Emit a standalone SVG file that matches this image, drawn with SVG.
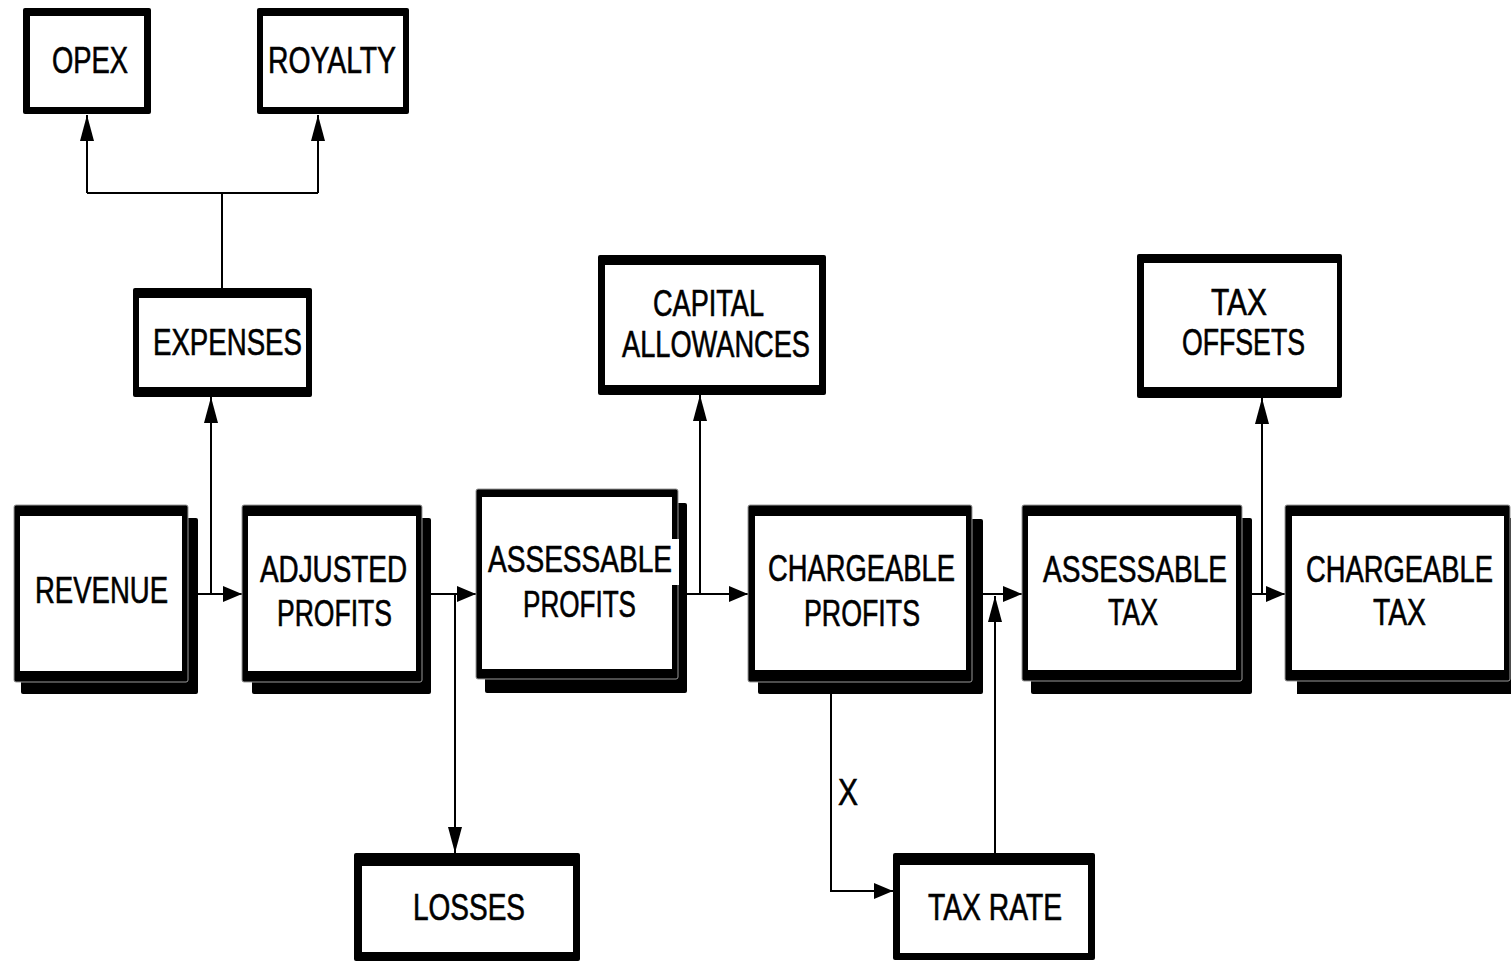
<svg xmlns="http://www.w3.org/2000/svg" width="1511" height="962" viewBox="0 0 1511 962">
<style>
.bk{fill:#000}
.fo{fill:#000;stroke:#9a9a9a;stroke-width:1}
.so{fill:#000}
.in{fill:#fff}
.t{font-family:"Liberation Sans",Arial,sans-serif;font-size:36px;fill:#000;stroke:#000;stroke-width:0.6;text-anchor:middle}
.c{fill:none;stroke:#000;stroke-width:2}
</style>
<defs>
<marker id="mh" markerUnits="userSpaceOnUse" markerWidth="20" markerHeight="18" refX="19" refY="8" orient="auto" overflow="visible">
<path d="M0,0 L19,8 L0,16 z" fill="#000"/>
</marker>
<marker id="mv" markerUnits="userSpaceOnUse" markerWidth="27" markerHeight="14" refX="26" refY="7" orient="auto" overflow="visible">
<path d="M0,0 L26,7 L0,14 z" fill="#000"/>
</marker>
</defs>
<rect width="1511" height="962" fill="#fff"/>

<g id="connectors">
<path class="c" d="M222,288 V193 M87,193 H318"/>
<path class="c" d="M87,193 V115" marker-end="url(#mv)"/>
<path class="c" d="M318,193 V115" marker-end="url(#mv)"/>
<path class="c" d="M198,594 H242" marker-end="url(#mh)"/>
<path class="c" d="M211,594 V397" marker-end="url(#mv)"/>
<path class="c" d="M431,594 H476" marker-end="url(#mh)"/>
<path class="c" d="M455,594 V853" marker-end="url(#mv)"/>
<path class="c" d="M687,594 H748" marker-end="url(#mh)"/>
<path class="c" d="M700,594 V395" marker-end="url(#mv)"/>
<path class="c" d="M983,594 H1022" marker-end="url(#mh)"/>
<path class="c" d="M995,853 V596" marker-end="url(#mv)"/>
<path class="c" d="M831,682 V891 H893" marker-end="url(#mh)"/>
<path class="c" d="M1252,594 H1285" marker-end="url(#mh)"/>
<path class="c" d="M1262,594 V398" marker-end="url(#mv)"/>
<text class="t" x="848" y="805" textLength="20" lengthAdjust="spacingAndGlyphs">X</text>
</g>

<g id="opex">
<rect class="so" x="23" y="8" width="128" height="106" rx="2"/>
<rect class="in" x="30" y="16" width="114" height="91"/>
<text class="t" x="90" y="73" textLength="76" lengthAdjust="spacingAndGlyphs">OPEX</text>
</g>
<g id="royalty">
<rect class="so" x="257" y="8" width="152" height="106" rx="2"/>
<rect class="in" x="263" y="16" width="140" height="91"/>
<text class="t" x="332" y="73" textLength="128" lengthAdjust="spacingAndGlyphs">ROYALTY</text>
</g>
<g id="expenses">
<rect class="so" x="133" y="288" width="179" height="109" rx="2"/>
<rect class="in" x="139" y="298" width="167" height="89"/>
<text class="t" x="227.5" y="355" textLength="149" lengthAdjust="spacingAndGlyphs">EXPENSES</text>
</g>
<g id="capital-allowances">
<rect class="so" x="598" y="255" width="228" height="140" rx="2"/>
<rect class="in" x="605" y="265" width="214" height="120"/>
<text class="t" x="708.5" y="316" textLength="111" lengthAdjust="spacingAndGlyphs">CAPITAL</text>
<text class="t" x="716" y="357" textLength="188" lengthAdjust="spacingAndGlyphs">ALLOWANCES</text>
</g>
<g id="tax-offsets">
<rect class="so" x="1137" y="254" width="205" height="144" rx="2"/>
<rect class="in" x="1144" y="263" width="193" height="124"/>
<text class="t" x="1239" y="315" textLength="56" lengthAdjust="spacingAndGlyphs">TAX</text>
<text class="t" x="1243.5" y="355" textLength="123" lengthAdjust="spacingAndGlyphs">OFFSETS</text>
</g>

<g id="revenue">
<rect class="bk" x="21" y="518" width="177" height="176" rx="2"/>
<rect class="fo" x="14" y="505" width="174" height="177" rx="2"/>
<rect class="in" x="20" y="516" width="162" height="155"/>
<text class="t" x="101.5" y="603" textLength="133" lengthAdjust="spacingAndGlyphs">REVENUE</text>
</g>
<g id="adjusted-profits">
<rect class="bk" x="252" y="518" width="179" height="176" rx="2"/>
<rect class="fo" x="242" y="505" width="180" height="177" rx="2"/>
<rect class="in" x="248" y="516" width="168" height="155"/>
<text class="t" x="333.5" y="582" textLength="147" lengthAdjust="spacingAndGlyphs">ADJUSTED</text>
<text class="t" x="334.5" y="626" textLength="115" lengthAdjust="spacingAndGlyphs">PROFITS</text>
</g>
<g id="assessable-profits">
<rect class="bk" x="485" y="503" width="202" height="190" rx="2"/>
<rect class="fo" x="476" y="489" width="202" height="190" rx="2"/>
<rect class="in" x="482" y="497" width="190" height="172"/>
<rect class="in" x="484" y="539" width="195" height="46"/>
<text class="t" x="580" y="572" textLength="184" lengthAdjust="spacingAndGlyphs">ASSESSABLE</text>
<text class="t" x="579.5" y="617" textLength="113" lengthAdjust="spacingAndGlyphs">PROFITS</text>
</g>
<g id="chargeable-profits">
<rect class="bk" x="758" y="519" width="225" height="175" rx="2"/>
<rect class="fo" x="748" y="505" width="224" height="177" rx="2"/>
<rect class="in" x="755" y="516" width="211" height="154"/>
<text class="t" x="861.5" y="581" textLength="187" lengthAdjust="spacingAndGlyphs">CHARGEABLE</text>
<text class="t" x="862" y="626" textLength="116" lengthAdjust="spacingAndGlyphs">PROFITS</text>
</g>
<g id="assessable-tax">
<rect class="bk" x="1031" y="518" width="221" height="176" rx="2"/>
<rect class="fo" x="1022" y="505" width="220" height="176" rx="2"/>
<rect class="in" x="1028" y="516" width="208" height="154"/>
<text class="t" x="1135" y="582" textLength="184" lengthAdjust="spacingAndGlyphs">ASSESSABLE</text>
<text class="t" x="1133" y="625" textLength="50" lengthAdjust="spacingAndGlyphs">TAX</text>
</g>
<g id="chargeable-tax">
<rect class="bk" x="1297" y="518" width="214" height="176"/>
<rect class="fo" x="1285" y="505" width="225" height="176" rx="2"/>
<rect class="in" x="1292" y="516" width="212" height="154"/>
<text class="t" x="1399.5" y="582" textLength="187" lengthAdjust="spacingAndGlyphs">CHARGEABLE</text>
<text class="t" x="1399.5" y="625" textLength="53" lengthAdjust="spacingAndGlyphs">TAX</text>
</g>

<g id="losses">
<rect class="so" x="354" y="853" width="226" height="108" rx="2"/>
<rect class="in" x="362" y="866" width="211" height="86"/>
<text class="t" x="469" y="920" textLength="112" lengthAdjust="spacingAndGlyphs">LOSSES</text>
</g>
<g id="tax-rate">
<rect class="so" x="893" y="853" width="202" height="107" rx="2"/>
<rect class="in" x="900" y="865" width="188" height="88"/>
<text class="t" x="995" y="920" textLength="134" lengthAdjust="spacingAndGlyphs">TAX RATE</text>
</g>
</svg>
